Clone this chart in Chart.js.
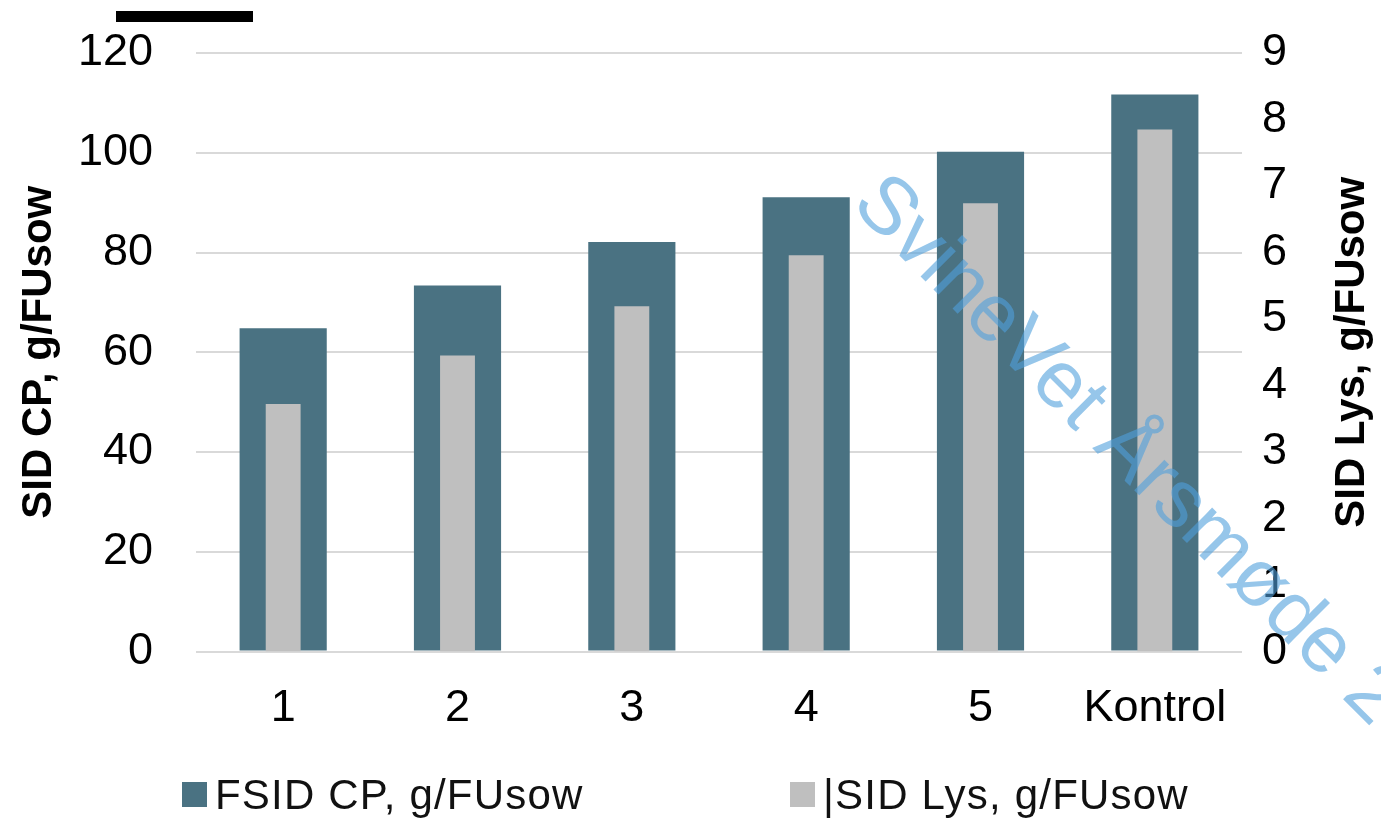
<!DOCTYPE html>
<html>
<head>
<meta charset="utf-8">
<script src="https://cdn.jsdelivr.net/npm/chart.js@4/dist/chart.umd.min.js"></script>
<style>
  html, body { margin: 0; padding: 0; background: #ffffff; }
  #wrap { position: relative; width: 1381px; height: 819px; }
  #topbar { position: absolute; left: 116px; top: 11px; width: 137px; height: 11px; background: #000; }
</style>
</head>
<body>
<div id="wrap">
  <canvas id="chart" width="1381" height="819"></canvas>
  <div id="topbar"></div>
</div>
<script>
// Diet groups
const categories = ['1', '2', '3', '4', '5', 'Kontrol'];
// Standardised ileal digestible crude protein, g per feed unit (left axis)
const sidCP = [64.8, 73.4, 82.1, 91.1, 100.2, 111.7];
// Standardised ileal digestible lysine, g per feed unit (right axis)
const sidLys = [3.72, 4.45, 5.19, 5.96, 6.74, 7.85];
// Axis titles and legend texts
const seriesNames = ['SID CP, g/FUsow', 'SID Lys, g/FUsow'];
const legendTexts = ['FSID CP, g/FUsow', '|SID Lys, g/FUsow'];
const watermarkText = 'SvineVet Årsmøde 2';

const COL_CP = '#4a7282';
const COL_LYS = '#bfbfbf';
const FONT = "'Liberation Sans', Arial, sans-serif";

Chart.defaults.font.family = FONT;
Chart.defaults.color = '#000000';

const overlay = {
  id: 'overlay',
  afterDraw(chart) {
    const ctx = chart.ctx;
    const area = chart.chartArea;

    // Right axis title, reading bottom to top
    ctx.save();
    ctx.translate(1352, (area.top + area.bottom) / 2);
    ctx.rotate(-Math.PI / 2);
    ctx.font = 'bold 42px ' + FONT;
    ctx.fillStyle = '#000';
    ctx.textAlign = 'center';
    ctx.textBaseline = 'middle';
    ctx.fillText(seriesNames[1], 0, 0);
    ctx.restore();

    // Legend below the plot
    const items = [
      { x: 182, color: COL_CP, text: legendTexts[0] },
      { x: 790, color: COL_LYS, text: legendTexts[1] }
    ];
    ctx.save();
    ctx.font = '42px ' + FONT;
    ctx.letterSpacing = '1.2px';
    ctx.textBaseline = 'alphabetic';
    ctx.textAlign = 'left';
    items.forEach((it) => {
      ctx.fillStyle = it.color;
      ctx.fillRect(it.x, 782, 25, 25);
      ctx.fillStyle = '#111';
      ctx.fillText(it.text, it.x + 33, 809);
    });
    ctx.restore();

    // Diagonal watermark
    ctx.save();
    ctx.translate(850, 206);
    ctx.rotate(45 * Math.PI / 180);
    ctx.font = '81px ' + FONT;
    ctx.fillStyle = 'rgba(80, 160, 220, 0.6)';
    ctx.textAlign = 'left';
    ctx.textBaseline = 'alphabetic';
    ctx.fillText(watermarkText, 0, 0);
    ctx.restore();
  }
};

new Chart(document.getElementById('chart'), {
  type: 'bar',
  data: {
    labels: categories,
    datasets: [
      {
        label: seriesNames[0],
        data: sidCP,
        backgroundColor: COL_CP,
        yAxisID: 'y',
        grouped: false,
        barPercentage: 0.5,
        categoryPercentage: 1.0,
        order: 2
      },
      {
        label: seriesNames[1],
        data: sidLys,
        backgroundColor: COL_LYS,
        yAxisID: 'y1',
        grouped: false,
        barPercentage: 0.2,
        categoryPercentage: 1.0,
        order: 1
      }
    ]
  },
  options: {
    responsive: false,
    animation: false,
    layout: { padding: { top: 53, bottom: 90, left: 0, right: 0 } },
    plugins: {
      legend: { display: false },
      tooltip: { enabled: false }
    },
    scales: {
      x: {
        grid: { display: false, drawTicks: false },
        border: { display: false },
        ticks: { font: { size: 45 }, padding: 30, color: '#000' },
        afterFit(scale) { scale.height = 77.5; }
      },
      y: {
        position: 'left',
        min: 0,
        max: 120,
        ticks: { stepSize: 20, font: { size: 45 }, padding: 0, color: '#000' },
        grid: { color: '#d9d9d9', lineWidth: 2, drawTicks: true, tickLength: 43, tickColor: 'rgba(0,0,0,0)' },
        border: { display: false },
        title: {
          display: true,
          text: seriesNames[0],
          font: { size: 42, weight: 'bold' },
          color: '#000',
          padding: { top: 14, bottom: 0 }
        },
        afterFit(scale) { scale.width = 196; }
      },
      y1: {
        position: 'right',
        min: 0,
        max: 9,
        ticks: { stepSize: 1, font: { size: 45 }, padding: 0, color: '#000' },
        grid: { display: false, drawTicks: true, tickLength: 20, tickColor: 'rgba(0,0,0,0)' },
        border: { display: false },
        afterFit(scale) { scale.width = 139; }
      }
    }
  },
  plugins: [overlay]
});
</script>
</body>
</html>
